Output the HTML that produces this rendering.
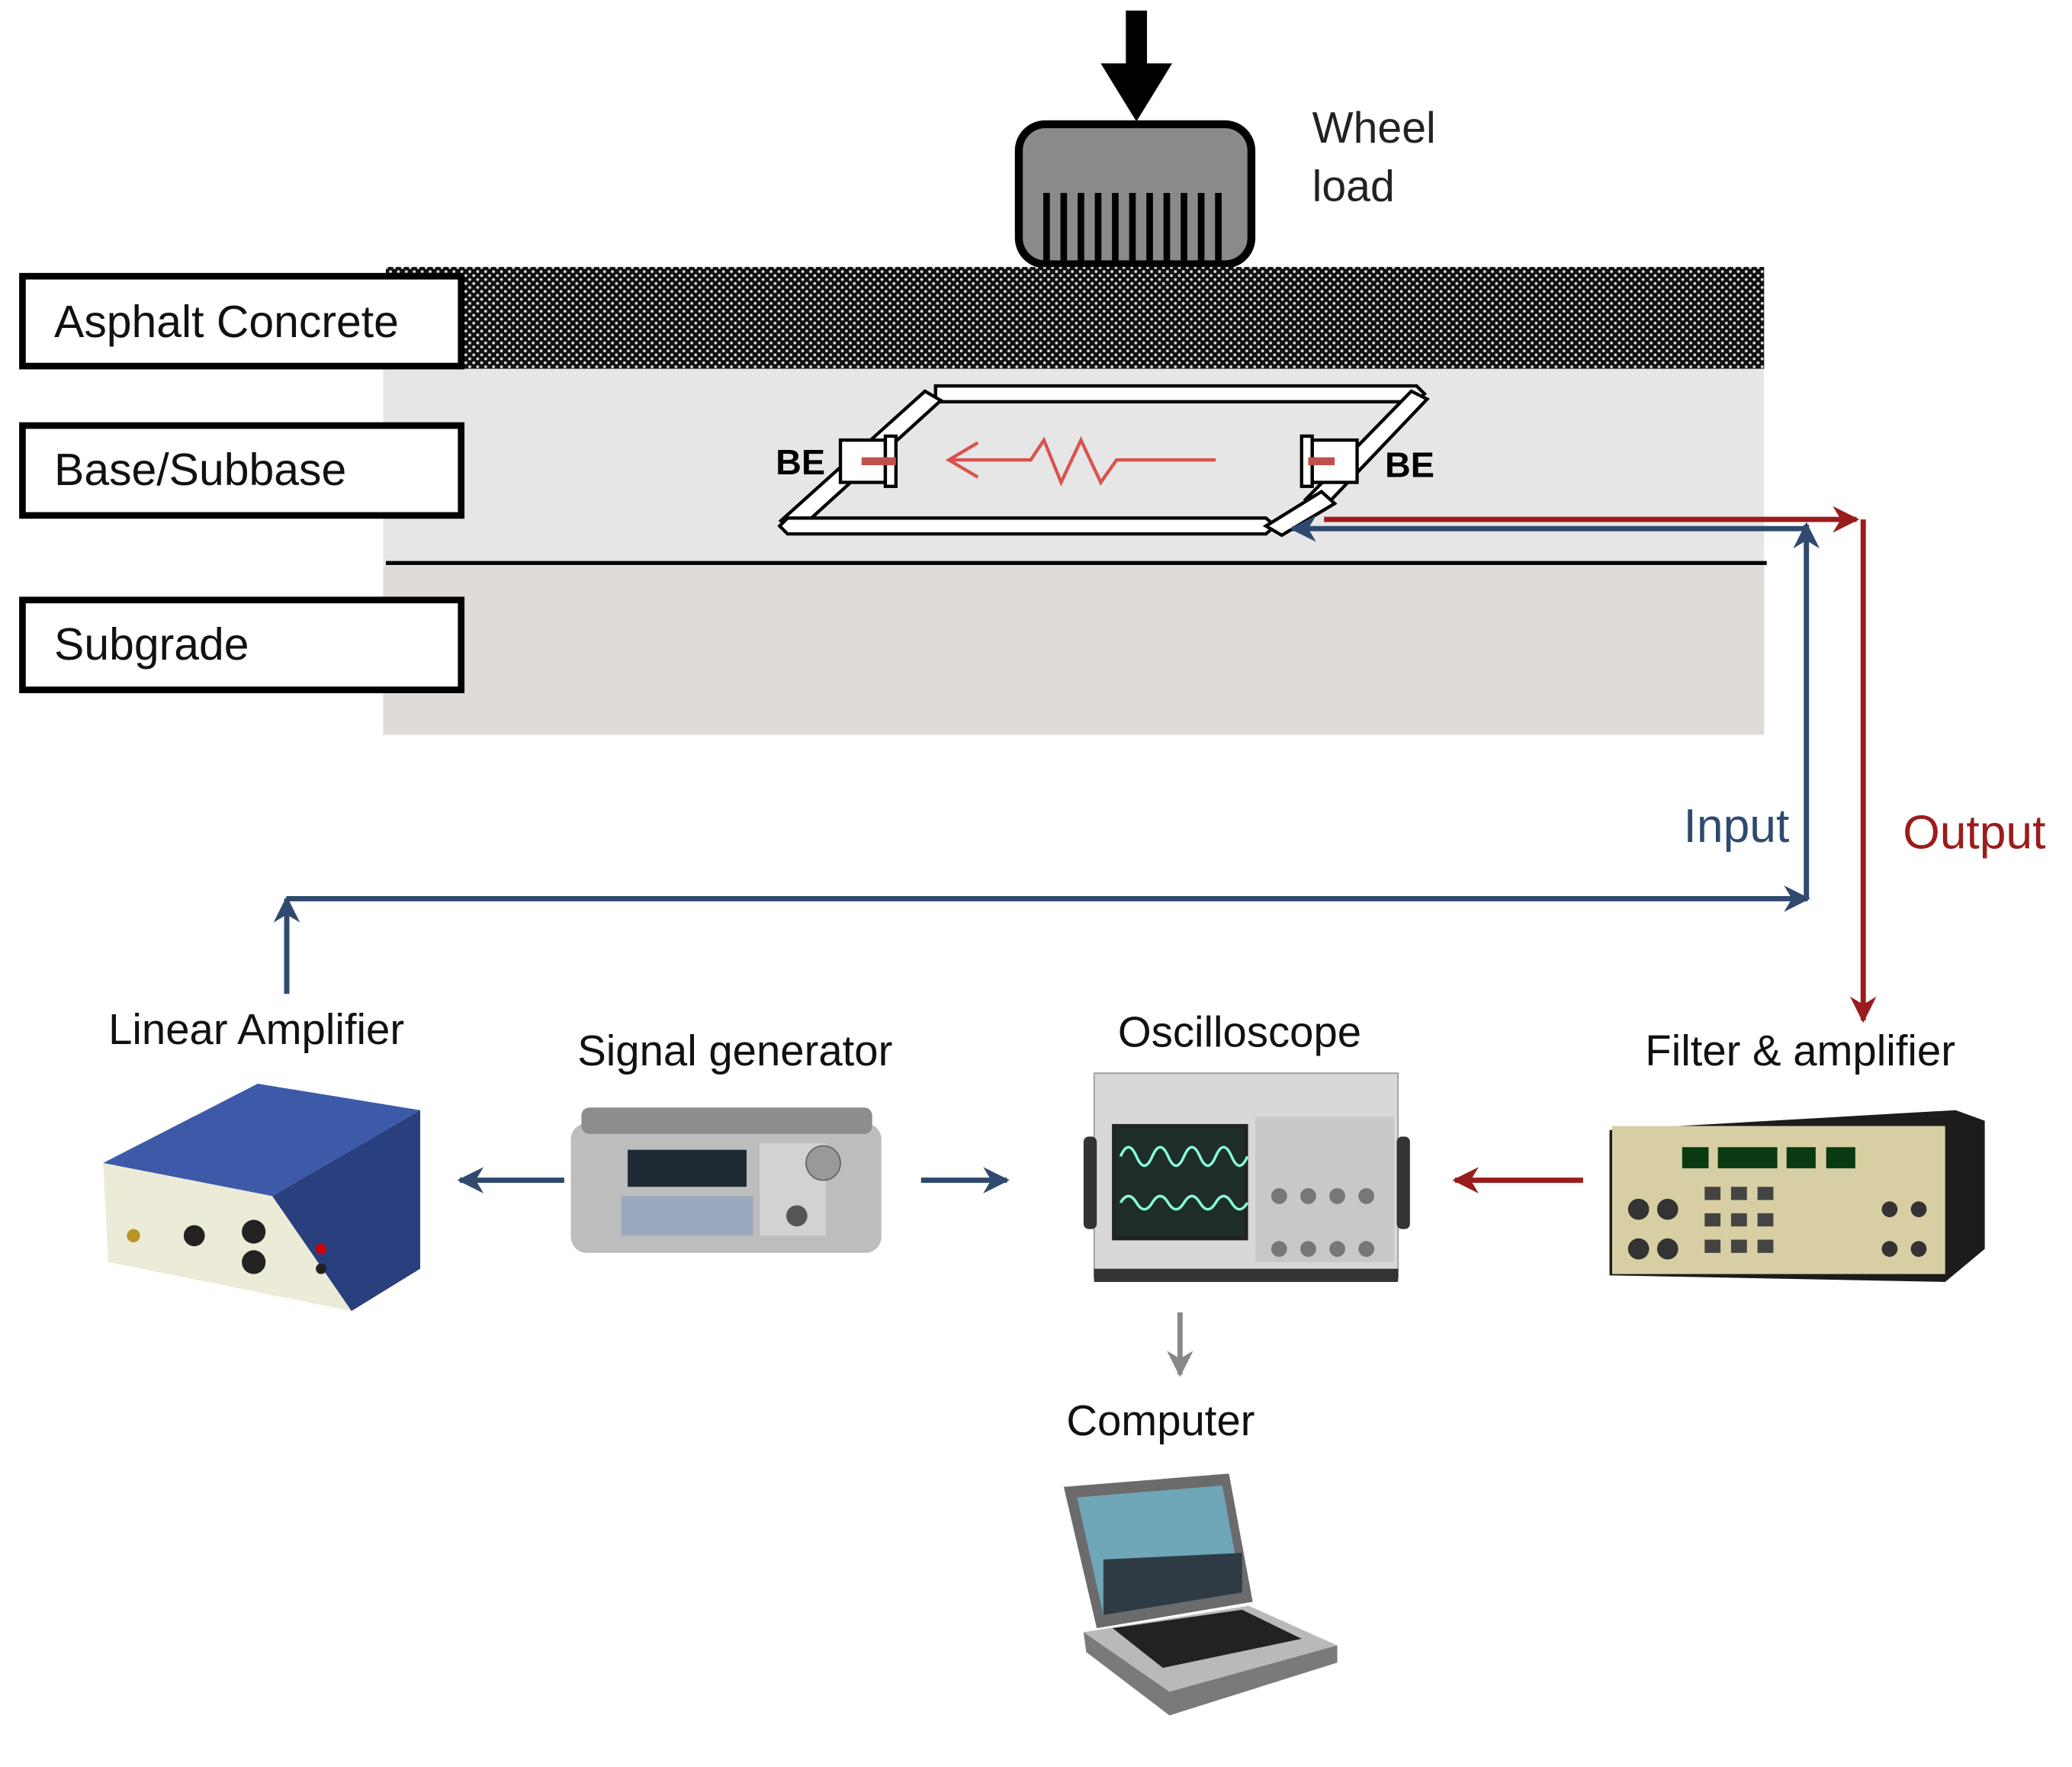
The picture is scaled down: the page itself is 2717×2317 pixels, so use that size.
<!DOCTYPE html>
<html><head><meta charset="utf-8">
<style>
html,body{margin:0;padding:0;background:#fff;}
svg{display:block;}
text{font-family:"Liberation Sans",sans-serif;}
</style></head>
<body>
<svg width="2717" height="2317" viewBox="0 0 1568 1337" preserveAspectRatio="none" xmlns="http://www.w3.org/2000/svg">
<defs>
<pattern id="dots" width="6" height="6" patternUnits="userSpaceOnUse">
<rect width="6" height="6" fill="#111"/>
<circle cx="1.5" cy="1.5" r="1.1" fill="#ddd"/>
<circle cx="4.5" cy="4.5" r="1.1" fill="#ddd"/>
</pattern>
<marker id="bl" viewBox="0 0 10 10" refX="9" refY="5" markerWidth="5" markerHeight="5" orient="auto-start-reverse"><path d="M0,0 L10,5 L0,10 L3,5 z" fill="#2f4a6e"/></marker>
<marker id="rd" viewBox="0 0 10 10" refX="9" refY="5" markerWidth="5" markerHeight="5" orient="auto-start-reverse"><path d="M0,0 L10,5 L0,10 L3,5 z" fill="#9b1c1c"/></marker>
<marker id="gr" viewBox="0 0 10 10" refX="9" refY="5" markerWidth="5" markerHeight="5" orient="auto"><path d="M0,0 L10,5 L0,10 L3,5 z" fill="#888"/></marker>
</defs>

<rect x="852" y="8" width="16" height="46" fill="#000"/>
<polygon points="833,48 887,48 860,92" fill="#000"/>
<rect x="771" y="94" width="176" height="106" rx="20" fill="#8a8a8a" stroke="#000" stroke-width="6"/>
<g stroke="#000" stroke-width="5">
<line x1="792" y1="146" x2="792" y2="197"/><line x1="805" y1="146" x2="805" y2="197"/><line x1="818" y1="146" x2="818" y2="197"/><line x1="831" y1="146" x2="831" y2="197"/><line x1="844" y1="146" x2="844" y2="197"/><line x1="857" y1="146" x2="857" y2="197"/><line x1="870" y1="146" x2="870" y2="197"/><line x1="883" y1="146" x2="883" y2="197"/><line x1="896" y1="146" x2="896" y2="197"/><line x1="909" y1="146" x2="909" y2="197"/><line x1="922" y1="146" x2="922" y2="197"/>
</g>
<text x="993" y="108" font-size="33" fill="#222">Wheel</text>
<text x="993" y="152" font-size="33" fill="#222">load</text>

<rect x="290" y="278" width="1045" height="150" fill="#e6e6e6"/>
<rect x="290" y="428" width="1045" height="128" fill="#dedbd8"/>
<rect x="292" y="202" width="1043" height="77" fill="url(#dots)"/>
<line x1="292" y1="426" x2="1337" y2="426" stroke="#000" stroke-width="3"/>

<g fill="#fff" stroke="#000" stroke-width="5">
<rect x="17" y="209" width="332" height="68"/>
<rect x="17" y="322" width="332" height="68"/>
<rect x="17" y="454" width="332" height="68"/>
</g>
<text x="41" y="255" font-size="34" fill="#111">Asphalt Concrete</text>
<text x="41" y="367" font-size="34" fill="#111">Base/Subbase</text>
<text x="41" y="499" font-size="34" fill="#111">Subgrade</text>

<!-- sensor frame -->
<g fill="#fff" stroke="#000" stroke-width="2.5">
<path d="M708,292 L1072,292 L1078,298 L1072,304 L708,304 Z"/>
<path d="M1068,296 L1080,302 L1000,386 L988,378 Z"/>
<path d="M700,296 L712,303 L603,402 L591,394 Z"/>
<path d="M596,392 L958,392 L965,398 L958,404 L596,404 L590,398 Z"/>
<rect x="636" y="333" width="34" height="32"/>
<rect x="670" y="330" width="8" height="38"/>
<rect x="993" y="333" width="34" height="32"/>
<rect x="985" y="330" width="8" height="38"/>
<path d="M1000,372 L1010,381 L970,405 L958,398 Z"/>
</g>
<line x1="652" y1="349" x2="678" y2="349" stroke="#c0504d" stroke-width="6"/>
<line x1="990" y1="349" x2="1010" y2="349" stroke="#c0504d" stroke-width="6"/>
<text x="587" y="359" font-size="27" font-weight="bold" fill="#000">BE</text>
<text x="1048" y="361" font-size="27" font-weight="bold" fill="#000">BE</text>
<polyline points="920,348 845,348 833,365 818,333 803,365 790,333 780,348 718,348" fill="none" stroke="#d9534f" stroke-width="2.5"/>
<polyline points="740,335 718,348 740,361" fill="none" stroke="#d9534f" stroke-width="2.5"/>

<line x1="1002" y1="393" x2="1405" y2="393" stroke="#9b1c1c" stroke-width="4" marker-end="url(#rd)"/>
<line x1="1410" y1="393" x2="1410" y2="772" stroke="#9b1c1c" stroke-width="4" marker-end="url(#rd)"/>
<line x1="1367" y1="400" x2="978" y2="400" stroke="#2f4a6e" stroke-width="4" marker-end="url(#bl)"/>
<line x1="1367" y1="680" x2="1367" y2="397" stroke="#2f4a6e" stroke-width="4" marker-end="url(#bl)"/>
<line x1="217" y1="680" x2="1368" y2="680" stroke="#2f4a6e" stroke-width="4" marker-end="url(#bl)"/>
<line x1="217" y1="752" x2="217" y2="680" stroke="#2f4a6e" stroke-width="4" marker-end="url(#bl)"/>
<text x="1274" y="637" font-size="36" fill="#2f4a6e">Input</text>
<text x="1440" y="642" font-size="36" fill="#9b1c1c">Output</text>

<text x="82" y="790" font-size="32.5" fill="#111">Linear  Amplifier</text>
<text x="437" y="806" font-size="32.5" fill="#111">Signal generator</text>
<text x="846" y="792" font-size="32.5" fill="#111">Oscilloscope</text>
<text x="1245" y="806" font-size="32.5" fill="#111">Filter  &amp; amplifier</text>
<text x="807" y="1086" font-size="32.5" fill="#111">Computer</text>

<line x1="427" y1="893" x2="348" y2="893" stroke="#2f4a6e" stroke-width="4" marker-end="url(#bl)"/>
<line x1="697" y1="893" x2="762" y2="893" stroke="#2f4a6e" stroke-width="4" marker-end="url(#bl)"/>
<line x1="1198" y1="893" x2="1101" y2="893" stroke="#9b1c1c" stroke-width="4" marker-end="url(#rd)"/>
<line x1="893" y1="993" x2="893" y2="1040" stroke="#888" stroke-width="4" marker-end="url(#gr)"/>

<polygon points="78,880 195,820 318,840 206,905" fill="#3d5aa8"/>
<polygon points="206,905 318,840 318,960 266,992" fill="#2a3f7e"/>
<polygon points="78,880 206,905 266,992 82,955" fill="#ecebd8"/>
<circle cx="147" cy="935" r="8" fill="#222"/><circle cx="192" cy="932" r="9" fill="#222"/><circle cx="192" cy="955" r="9" fill="#222"/>
<circle cx="101" cy="935" r="5" fill="#b8942a"/><circle cx="243" cy="945" r="4" fill="#c00"/><circle cx="243" cy="960" r="4" fill="#222"/>

<rect x="432" y="850" width="235" height="98" rx="12" fill="#bdbdbd"/>
<rect x="440" y="838" width="220" height="20" rx="6" fill="#8d8d8d"/>
<rect x="475" y="870" width="90" height="28" fill="#1e2a33"/>
<rect x="470" y="905" width="100" height="30" fill="#9aa9bd"/>
<rect x="575" y="865" width="50" height="70" fill="#d2d2d2"/>
<circle cx="623" cy="880" r="13" fill="#999" stroke="#666"/>
<circle cx="603" cy="920" r="8" fill="#555"/>

<rect x="828" y="812" width="230" height="155" fill="#d8d8d8" stroke="#999"/>
<rect x="820" y="860" width="10" height="70" rx="4" fill="#333"/>
<rect x="1057" y="860" width="10" height="70" rx="4" fill="#333"/>
<rect x="843" y="852" width="100" height="85" fill="#1f2d2a" stroke="#222" stroke-width="3"/>
<path d="M848,875 q6,-14 12,0 t12,0 t12,0 t12,0 t12,0 t12,0 t12,0 t12,0" fill="none" stroke="#8fd" stroke-width="2"/>
<path d="M848,910 q6,-10 12,0 t12,0 t12,0 t12,0 t12,0 t12,0 t12,0 t12,0" fill="none" stroke="#8fd" stroke-width="2"/>
<rect x="950" y="845" width="105" height="110" fill="#c8c8c8"/>
<g fill="#777"><circle cx="968" cy="905" r="6"/><circle cx="990" cy="905" r="6"/><circle cx="1012" cy="905" r="6"/><circle cx="1034" cy="905" r="6"/><circle cx="968" cy="945" r="6"/><circle cx="990" cy="945" r="6"/><circle cx="1012" cy="945" r="6"/><circle cx="1034" cy="945" r="6"/></g>
<rect x="828" y="960" width="230" height="10" fill="#333"/>

<polygon points="1218,855 1480,840 1502,848 1502,945 1472,970 1218,965" fill="#1c1c1c"/>
<rect x="1220" y="852" width="252" height="112" fill="#d7cfa3"/>
<g fill="#0a3a12"><rect x="1273" y="868" width="20" height="16"/><rect x="1300" y="868" width="45" height="16"/><rect x="1352" y="868" width="22" height="16"/><rect x="1382" y="868" width="22" height="16"/></g>
<g fill="#333"><circle cx="1240" cy="915" r="8"/><circle cx="1262" cy="915" r="8"/><circle cx="1240" cy="945" r="8"/><circle cx="1262" cy="945" r="8"/><circle cx="1430" cy="915" r="6"/><circle cx="1452" cy="915" r="6"/><circle cx="1430" cy="945" r="6"/><circle cx="1452" cy="945" r="6"/></g>
<g fill="#444"><rect x="1290" y="898" width="12" height="10"/><rect x="1310" y="898" width="12" height="10"/><rect x="1330" y="898" width="12" height="10"/><rect x="1290" y="918" width="12" height="10"/><rect x="1310" y="918" width="12" height="10"/><rect x="1330" y="918" width="12" height="10"/><rect x="1290" y="938" width="12" height="10"/><rect x="1310" y="938" width="12" height="10"/><rect x="1330" y="938" width="12" height="10"/></g>

<polygon points="805,1125 930,1115 948,1212 830,1232" fill="#6b6b6b"/>
<polygon points="815,1133 925,1124 940,1205 835,1222" fill="#6fa6b8"/>
<polygon points="835,1180 940,1175 940,1205 835,1222" fill="#2f3b44"/>
<polygon points="820,1235 945,1215 1012,1245 885,1280" fill="#b9b9b9"/>
<polygon points="842,1232 940,1218 985,1240 880,1262" fill="#222"/>
<polygon points="820,1235 885,1280 1012,1245 1012,1258 885,1298 822,1250" fill="#7a7a7a"/>
</svg>
</body></html>
